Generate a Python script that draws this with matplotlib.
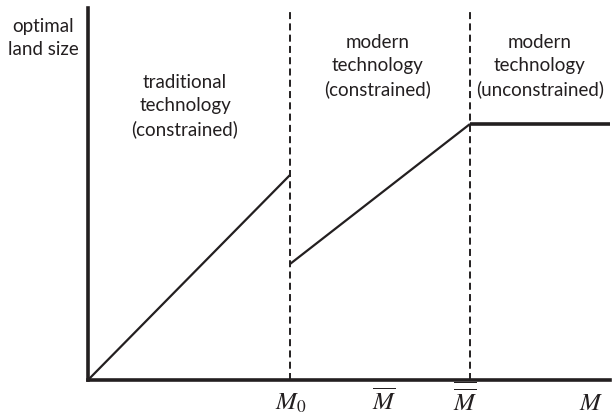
import matplotlib
matplotlib.use('Agg')
import matplotlib.pyplot as plt

plt.rcParams['font.family'] = ['Lato', 'DejaVu Sans']
plt.rcParams['mathtext.fontset'] = 'stix'

# thresholds on the M axis
m0 = 2.02
m_bar = 2.965
m_bbar = 3.82
x_end = 5.22
y_top = 3.72

# optimal land size pieces
trad_x = [0.0, m0]
trad_y = [0.0, 2.05]
mod_x = [m0, m_bbar]
mod_y = [1.16, 2.56]
flat_x = [m_bbar, x_end]
flat_y = [2.56, 2.56]

regime_labels = ['traditional\ntechnology\n(constrained)',
                 'modern\ntechnology\n(constrained)',
                 'modern\ntechnology\n(unconstrained)']

ink = '#231f20'

fig = plt.figure(figsize=(6.12, 4.18), dpi=100)
ax = fig.add_axes([88 / 612, 38 / 418, 522 / 612, 372 / 418])
ax.set_xlim(0, x_end)
ax.set_ylim(0, y_top)

for s in ['top', 'right']:
    ax.spines[s].set_visible(False)
for s in ['left', 'bottom']:
    ax.spines[s].set_linewidth(2.6)
    ax.spines[s].set_color(ink)
ax.set_xticks([])
ax.set_yticks([])

ax.plot(trad_x, trad_y, color=ink, lw=1.6, solid_capstyle='butt')
ax.plot(mod_x, mod_y, color=ink, lw=1.6, solid_capstyle='butt')
ax.plot(flat_x, flat_y, color=ink, lw=2.6, solid_capstyle='butt')

for xv in [m0, m_bbar]:
    ax.plot([xv, xv], [0, y_top], color=ink, lw=1.4, ls=(0, (3.6, 2.2)))

# regime captions
ax.text(0.97, 2.74, regime_labels[0], ha='center', va='center', fontsize=13.5,
        color=ink, linespacing=1.4)
ax.text(2.9, 3.14, regime_labels[1], ha='center', va='center', fontsize=13.5,
        color=ink, linespacing=1.4)
ax.text(4.52, 3.14, regime_labels[2], ha='center', va='center', fontsize=13.5,
        color=ink, linespacing=1.4)

fig.text(43 / 612, 1 - 38 / 418, 'optimal\nland size', ha='center', va='center',
         fontsize=13.5, color=ink, linespacing=1.4)

# axis labels under the M axis
lab_y = -0.30
ax.text(m0 + 0.01, lab_y, r'$M_0$', ha='center', va='baseline', fontsize=18, color=ink)
ax.text(m_bar, lab_y, r'$\overline{M}$', ha='center', va='baseline', fontsize=18, color=ink)
ax.text(m_bbar - 0.045, lab_y, r'$\overline{\overline{M}}$', ha='center', va='baseline',
        fontsize=18, color=ink)
ax.text(5.03, lab_y, r'$M$', ha='center', va='baseline', fontsize=18, color=ink)

fig.savefig('out.png', dpi=100)
